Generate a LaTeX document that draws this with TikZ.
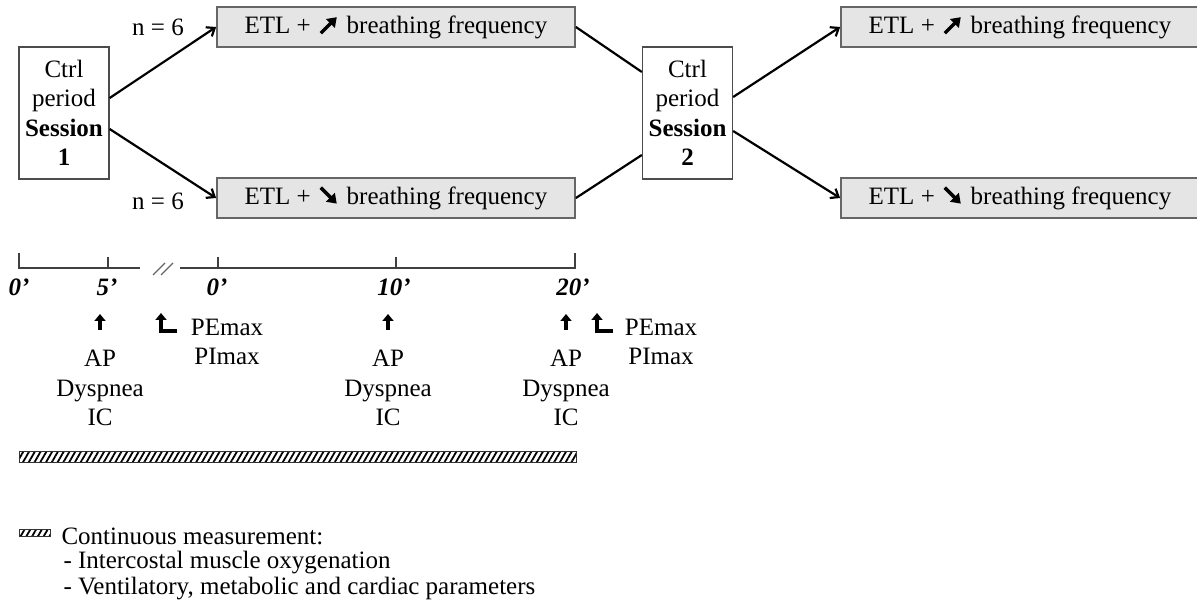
\documentclass[tikz,border=0pt]{standalone}
\usepackage{fontspec}
\setmainfont{Liberation Serif}
\usetikzlibrary{positioning,arrows.meta,patterns.meta}

\newcommand{\risearrow}{\hspace{2pt}\tikz[x=1pt,y=1pt,baseline=0pt]
  \draw[line width=3.4pt,-{Triangle[length=9pt,width=12pt]}] (0,0) -- (16,16);\hspace{2pt}}
\newcommand{\fallarrow}{\hspace{2pt}\tikz[x=1pt,y=1pt,baseline=0pt]
  \draw[line width=3.4pt,-{Triangle[length=9pt,width=12pt]}] (0,17) -- (16,1);\hspace{2pt}}

\begin{document}
\begin{tikzpicture}[
  x=1pt, y=-1pt,
  >={Straight Barb[length=7pt,width=11pt]},
  font=\fontsize{25}{29.5}\selectfont,
  ctrl/.style={draw=black!70,line width=1.3pt,fill=white,align=center,
    minimum width=90pt,minimum height=132pt,inner sep=0pt},
  etl/.style={draw=black!60,line width=1.8pt,fill=gray!20,
    minimum width=358pt,minimum height=40pt,inner sep=0pt},
  flow/.style={->,line width=2.2pt},
  link/.style={line width=2.2pt},
  timeline/.style={line width=1.8pt,draw=black!75},
  timelbl/.style={font=\fontsize{25}{29.5}\selectfont\bfseries\itshape,anchor=north},
  meas/.style={-{Triangle[length=7pt,width=11pt]},line width=3.6pt},
  hatch/.style={draw=black!80,line width=1pt,
    pattern={Lines[angle=60,distance=5pt,line width=1.8pt]}}
]
  \useasboundingbox (0,0) rectangle (1197,612);

  % protocol
  \node[ctrl] (s1) at (64,113) {Ctrl\\period\\\textbf{Session}\\\textbf{1}};
  \node[etl] (up1) at (396,27) {ETL + \risearrow{} breathing frequency};
  \node[etl] (dn1) at (396,198) {ETL + \fallarrow{} breathing frequency};
  \node[ctrl] (s2) at (687.5,113) {Ctrl\\period\\\textbf{Session}\\\textbf{2}};
  \node[etl] (up2) at (1020,27) {ETL + \risearrow{} breathing frequency};
  \node[etl] (dn2) at (1020,198) {ETL + \fallarrow{} breathing frequency};
  \node (n1) at (158,27) {n = 6};
  \node (n2) at (158,201) {n = 6};

  \draw[flow] ([yshift=15pt]s1.east) -- (up1.west);
  \draw[flow] ([yshift=-16pt]s1.east) -- (dn1.west);
  \draw[link] (up1.east) -- ([yshift=41pt]s2.west);
  \draw[link] (dn1.east) -- ([yshift=-42pt]s2.west);
  \draw[flow] ([yshift=16pt]s2.east) -- (up2.west);
  \draw[flow] ([yshift=-18pt]s2.east) -- (dn2.west);

  % time axis
  \draw[timeline] (19,253) -- (19,268) -- (140,268);
  \draw[timeline] (108,268) -- (108,257);
  \draw[timeline] (180,268) -- (575,268) -- (575,253);
  \draw[timeline] (218,268) -- (218,257);
  \draw[timeline] (396,268) -- (396,257);
  \draw[black!60,line width=1.3pt] (153,275) -- (165,263) (161,275) -- (173,263);

  \node[timelbl] (t0) at (19,275) {0’};
  \node[timelbl] (t5) at (107,275) {5’};
  \node[timelbl] (u0) at (217,275) {0’};
  \node[timelbl] (u10) at (394,275) {10’};
  \node[timelbl] (u20) at (573,275) {20’};

  % measurements
  \node[align=center] (m5) at (100,388) {AP\\Dyspnea\\IC};
  \node[align=center] (m10) at (388,388) {AP\\Dyspnea\\IC};
  \node[align=center] (m20) at (566,388) {AP\\Dyspnea\\IC};
  \node[align=center] (p1) at (227,342) {PEmax\\PImax};
  \node[align=center] (p2) at (661,342) {PEmax\\PImax};

  \draw[meas] (100,330) -- (100,314);
  \draw[meas] (388,330) -- (388,314);
  \draw[meas] (566,330) -- (566,314);
  \draw[meas] (177,331) -- (161,331) -- (161,313);
  \draw[meas] (613,331) -- (597,331) -- (597,313);

  \draw[hatch] (19,451) rectangle (576,462);

  % legend
  \draw[hatch,line width=0.8pt] (19,529) rectangle (50,536);
  \node[anchor=west] (leg) at (58,536) {Continuous measurement:};
  \node[anchor=west] (leg1) at (60,563) {- Intercostal muscle oxygenation};
  \node[anchor=west] (leg2) at (60,589) {- Ventilatory, metabolic and cardiac parameters};
\end{tikzpicture}
\end{document}
